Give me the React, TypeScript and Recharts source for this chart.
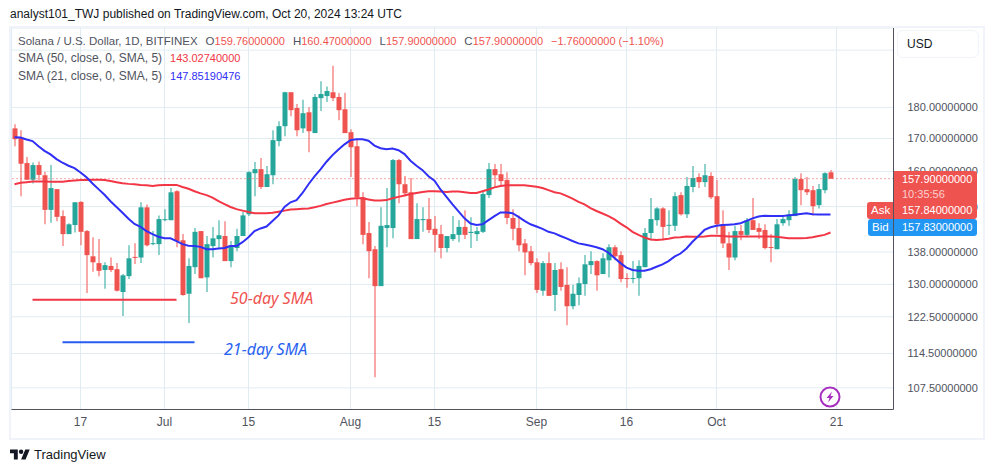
import { Bar, CartesianGrid, Cell, ComposedChart, Line, ReferenceLine, XAxis, YAxis } from 'recharts';

// daily candles, Jun 6 to Oct 20 2024
const opens = [
  173.2, 170.3, 162.5, 157.6, 161.9, 158.9, 149.1, 154.9, 147.4, 142.6,
  145.0, 151.3, 143.4, 136.9, 135.2, 133.5, 134.5, 133.7, 128.2, 132.0,
  136.6, 136.6, 149.8, 140.0, 140.0, 146.3, 146.3, 154.3, 141.0, 127.8,
  134.2, 143.4, 131.7, 139.5, 141.3, 142.1, 135.7, 139.0, 142.1, 147.9,
  159.5, 160.7, 155.5, 158.9, 169.2, 173.9, 185.1, 179.8, 173.2, 178.4,
  171.7, 183.1, 183.8, 185.1, 183.5, 179.4, 172.0, 167.6, 152.6, 142.9,
  138.7, 129.6, 144.2, 144.2, 163.4, 156.3, 154.0, 141.3, 146.3, 146.6,
  144.0, 142.6, 139.0, 141.3, 142.4, 144.5, 142.9, 142.6, 143.2, 153.2,
  160.7, 159.2, 157.5, 146.9, 144.2, 140.2, 138.2, 135.4, 128.5, 135.2,
  127.5, 133.7, 129.9, 124.9, 127.5, 130.1, 134.7, 135.7, 132.5, 135.9,
  139.2, 137.2, 131.5, 131.3, 131.5, 134.2, 142.9, 146.3, 149.5, 144.8,
  144.8, 153.2, 147.9, 155.5, 158.4, 156.9, 158.7, 152.9, 145.2, 140.2,
  136.6, 143.4, 142.4, 146.3, 144.2, 143.7, 139.2, 138.7, 145.5, 146.3,
  147.4, 157.8, 154.9, 154.6, 150.4, 154.6, 159.76,
];
const highs = [
  174.5, 172.6, 164.3, 162.7, 163.0, 159.9, 161.9, 154.9, 149.0, 145.5,
  151.2, 151.5, 143.7, 141.8, 141.3, 135.4, 136.6, 135.2, 132.5, 139.7,
  140.2, 151.2, 150.6, 143.4, 147.6, 149.3, 155.2, 154.6, 142.6, 136.4,
  144.2, 143.4, 142.1, 144.5, 146.3, 146.0, 140.8, 144.0, 148.5, 160.1,
  162.8, 164.0, 161.6, 172.6, 175.5, 185.3, 185.1, 181.1, 182.6, 180.1,
  184.5, 188.9, 187.1, 194.3, 184.8, 184.9, 172.9, 169.5, 154.0, 145.8,
  139.5, 149.8, 155.2, 163.7, 163.7, 158.7, 158.1, 150.9, 149.8, 152.4,
  147.4, 145.0, 142.1, 147.4, 146.3, 149.0, 147.1, 144.5, 154.3, 162.5,
  162.2, 162.2, 159.8, 149.3, 147.6, 141.3, 139.5, 136.4, 135.7, 137.9,
  135.2, 135.4, 134.2, 129.9, 131.7, 137.2, 138.2, 135.9, 137.7, 140.0,
  139.7, 138.2, 132.7, 135.7, 135.9, 144.2, 152.4, 149.8, 149.8, 149.0,
  154.0, 154.0, 158.4, 161.6, 159.5, 162.2, 159.8, 157.5, 149.0, 143.2,
  144.8, 145.0, 146.9, 152.4, 145.5, 145.2, 142.6, 146.6, 147.4, 149.0,
  158.4, 159.5, 158.4, 155.8, 156.4, 159.8, 160.47,
];
const lows = [
  167.6, 152.9, 157.5, 156.5, 157.5, 145.2, 145.6, 146.0, 139.5, 142.6,
  143.0, 139.7, 128.0, 133.1, 132.0, 129.0, 133.0, 128.3, 122.7, 131.3,
  135.0, 135.2, 139.4, 139.7, 137.2, 146.0, 146.3, 139.2, 127.3, 121.1,
  132.5, 131.5, 128.2, 136.6, 138.7, 135.7, 134.2, 138.2, 142.1, 147.4,
  152.9, 154.9, 155.5, 156.3, 167.6, 170.7, 177.1, 170.7, 171.7, 165.8,
  171.7, 178.8, 181.8, 182.1, 175.8, 171.7, 158.4, 150.1, 140.0, 131.5,
  109.6, 129.6, 139.2, 141.5, 150.9, 152.9, 141.3, 141.3, 143.2, 142.9,
  137.9, 136.4, 137.9, 140.8, 140.5, 141.3, 139.0, 140.8, 142.9, 152.4,
  155.5, 156.0, 145.2, 141.0, 138.2, 132.2, 134.7, 128.0, 127.3, 127.3,
  123.8, 128.5, 120.6, 124.2, 125.1, 127.3, 132.5, 128.5, 132.5, 131.7,
  135.9, 130.5, 129.2, 130.3, 127.3, 134.2, 141.0, 144.8, 141.0, 142.4,
  143.4, 147.6, 146.9, 154.0, 155.2, 155.5, 152.1, 142.6, 139.0, 133.5,
  135.9, 141.0, 142.1, 143.7, 141.3, 138.7, 135.4, 138.7, 144.8, 144.8,
  147.4, 150.4, 153.2, 147.6, 149.5, 153.7, 157.9,
];
const closes = [
  169.8, 162.3, 157.6, 161.9, 159.0, 149.1, 155.2, 147.2, 142.6, 145.2,
  151.2, 143.2, 137.2, 135.4, 133.3, 134.7, 133.5, 128.5, 132.2, 136.4,
  136.5, 149.8, 139.7, 140.2, 146.6, 146.5, 154.0, 140.8, 127.5, 134.5,
  143.2, 131.5, 140.0, 141.5, 142.3, 135.7, 139.7, 142.1, 147.6, 159.8,
  160.7, 155.5, 159.2, 169.5, 173.9, 185.1, 179.1, 172.6, 178.1, 172.3,
  183.5, 184.5, 185.5, 183.1, 179.1, 171.7, 167.3, 152.6, 142.4, 138.2,
  129.6, 144.8, 145.0, 163.4, 156.3, 153.7, 141.3, 146.6, 146.6, 143.7,
  142.4, 139.0, 142.1, 142.6, 144.5, 142.4, 143.2, 143.4, 153.5, 160.7,
  158.9, 157.2, 146.9, 144.0, 139.7, 137.9, 135.2, 128.7, 135.2, 127.3,
  133.5, 129.4, 124.9, 127.8, 130.3, 134.9, 135.7, 132.2, 136.4, 139.2,
  136.9, 131.3, 131.3, 131.5, 134.5, 142.9, 146.6, 149.5, 144.5, 145.0,
  152.9, 147.9, 155.8, 158.1, 156.9, 158.9, 152.6, 145.2, 140.2, 136.6,
  143.4, 142.4, 146.3, 143.7, 143.2, 139.0, 139.0, 145.2, 146.6, 147.9,
  157.8, 154.6, 154.0, 150.1, 154.9, 159.5, 157.9,
];
const sma21 = [
  170.4, 170.3, 169.7, 169.2, 167.6, 166.2, 165.1, 163.7, 162.6, 161.7,
  161.0, 159.7, 158.3, 156.5, 154.9, 153.3, 151.5, 149.9, 148.3, 146.7,
  145.3, 144.5, 143.4, 142.6, 141.9, 141.5, 141.5, 140.8, 140.0, 139.6,
  139.5, 139.3, 138.7, 138.7, 138.9, 139.0, 139.5, 139.5, 140.5, 141.8,
  143.4, 144.1, 144.6, 146.1, 147.6, 149.9, 151.2, 151.8, 153.8, 156.3,
  158.6, 160.6, 162.9, 164.9, 166.6, 168.2, 169.5, 169.8, 169.8, 169.3,
  167.8, 167.0, 166.7, 166.9, 166.4, 165.2, 163.2, 161.7, 160.4, 158.6,
  157.3, 154.8, 152.7, 150.6, 148.7, 146.8, 145.4, 145.0, 145.2, 146.3,
  147.4, 148.4, 148.4, 148.2, 147.2, 146.1, 145.2, 144.6, 144.0, 143.2,
  142.8, 142.1, 141.5, 140.8, 140.2, 139.9, 139.6, 139.2, 138.7, 137.8,
  136.5, 135.2, 134.1, 133.5, 133.3, 133.3, 133.7, 134.3, 134.9, 135.7,
  136.8, 137.6, 138.9, 140.6, 142.1, 143.7, 144.4, 144.8, 145.0, 145.1,
  145.2, 145.5, 146.1, 146.8, 147.3, 147.5, 147.4, 147.4, 147.4, 147.6,
  147.8, 148.0, 148.2, 147.9, 147.85, 147.85, 147.85,
];
const sma50 = [
  156.3, 156.7, 156.9, 157.1, 157.1, 157.1, 157.0, 157.0, 157.0, 157.2,
  157.4, 157.5, 157.5, 157.6, 157.6, 157.5, 157.2, 156.9, 156.6, 156.4,
  156.3, 156.1, 156.0, 155.8, 156.0, 156.1, 156.1, 156.1, 155.5, 155.0,
  154.3, 153.7, 153.2, 152.5, 151.5, 150.7, 149.9, 149.3, 148.9, 148.5,
  148.2, 148.2, 148.2, 148.3, 148.6, 148.9, 149.2, 149.3, 149.4, 149.5,
  149.8, 150.2, 150.7, 151.1, 151.5, 151.9, 152.2, 152.3, 152.3, 152.0,
  151.7, 151.7, 151.8, 152.3, 152.7, 153.1, 153.5, 153.8, 154.1, 154.3,
  154.3, 154.2, 154.1, 154.2, 154.2, 154.0, 153.8, 153.8, 154.3, 154.8,
  155.4, 155.8, 156.0, 156.0, 156.0, 156.0, 155.8, 155.6, 155.2, 154.6,
  154.0, 153.7, 153.0, 152.2, 151.3, 150.6, 149.6, 148.8, 148.1, 147.4,
  146.5, 145.4, 144.4, 143.2, 142.4, 141.7, 141.2, 141.1, 141.2, 141.4,
  141.7, 141.8, 142.0, 141.9, 141.9, 142.0, 142.2, 142.2, 142.1, 142.0,
  142.0, 142.0, 142.0, 142.0, 142.0, 142.0, 142.0, 141.9, 141.7, 141.5,
  141.5, 141.5, 141.6, 141.8, 142.1, 142.4, 143.03,
];

const priceTicks = [200, 180, 170, 160, 150, 138, 130, 122.5, 114.5, 107.5];
const timeTicks = ['2024-06-17', '2024-07-01', '2024-07-15', '2024-08-01', '2024-08-15', '2024-09-01', '2024-09-16', '2024-10-01', '2024-10-21'];
const timeLabels = ['17', 'Jul', '15', 'Aug', '15', 'Sep', '16', 'Oct', '21'];
const lastPrice = 157.9;

const UP = '#26a69a';
const DOWN = '#ef5350';
const GRID = '#e1ecf2';
const FONT = '"Liberation Sans", sans-serif';
const NOTE_FONT = '"Noto Sans", sans-serif';

// 137 candles plus the empty days TradingView leaves on the right
const days = Array.from({ length: 147 }, (_, i) => new Date(Date.UTC(2024, 5, 6 + i)).toISOString().slice(0, 10));

const data = days.map((date, i) =>
  i < opens.length
    ? {
        date,
        body: [Math.min(opens[i], closes[i]), Math.max(opens[i], closes[i])],
        wick: [lows[i], highs[i]],
        up: closes[i] >= opens[i],
        sma21: sma21[i],
        sma50: sma50[i],
      }
    : { date },
);

function Text({ x, y, color = '#50535e', size = 12, style, children }: any) {
  return (
    <div style={{ position: 'absolute', left: x, top: y, color, fontSize: size, lineHeight: '16px', fontFamily: FONT, whiteSpace: 'nowrap', ...style }}>
      {children}
    </div>
  );
}

function Num({ color = DOWN, gap = 0, children }: any) {
  return <span style={{ color, fontSize: 11, marginLeft: gap }}>{children}</span>;
}

export default function App() {
  return (
    <div style={{ position: 'absolute', left: 0, top: 0, width: 991, height: 472, background: '#fff', overflow: 'hidden' }}>
      <ComposedChart
        width={991}
        height={472}
        data={data}
        barGap={0}
        margin={{ top: 28, right: 9.5, bottom: 34.5, left: 11.5 }}
        style={{ position: 'absolute', left: 0, top: 0 }}
      >
        <CartesianGrid stroke={GRID} xAxisId="body" yAxisId="price" />
        <XAxis
          xAxisId="body"
          dataKey="date"
          height={28}
          ticks={timeTicks}
          interval={0}
          tickLine={false}
          axisLine={{ stroke: '#50535e' }}
          tick={{ fontSize: 12, fill: '#50535e', fontFamily: FONT }}
          tickFormatter={(v: string) => timeLabels[timeTicks.indexOf(v)]}
        />
        <XAxis xAxisId="wick" dataKey="date" hide />
        <YAxis
          yAxisId="price"
          orientation="right"
          width={88}
          scale="log"
          domain={[103.3, 208.3]}
          ticks={priceTicks}
          interval={0}
          tickLine={false}
          tickMargin={8}
          axisLine={{ stroke: '#50535e' }}
          tick={{ fontSize: 11, fill: '#50535e', fontFamily: FONT }}
          tickFormatter={(v: number) => v.toFixed(8)}
        />
        <ReferenceLine xAxisId="body" yAxisId="price" y={lastPrice} stroke={DOWN} strokeDasharray="1 3" />
        <Line xAxisId="body" yAxisId="price" dataKey="sma50" stroke="#f23645" strokeWidth={2} dot={false} isAnimationActive={false} />
        <Line xAxisId="body" yAxisId="price" dataKey="sma21" stroke="#2f2ff5" strokeWidth={2} dot={false} isAnimationActive={false} />
        <Bar xAxisId="wick" yAxisId="price" dataKey="wick" barSize={1} minPointSize={1} isAnimationActive={false}>
          {data.map((d: any, i) => (
            <Cell key={i} fill={d.up ? UP : DOWN} />
          ))}
        </Bar>
        <Bar xAxisId="body" yAxisId="price" dataKey="body" barSize={5} minPointSize={1} isAnimationActive={false}>
          {data.map((d: any, i) => (
            <Cell key={i} fill={d.up ? UP : DOWN} />
          ))}
        </Bar>
        <ReferenceLine
          xAxisId="body"
          yAxisId="price"
          stroke="#f23645"
          strokeWidth={2}
          segment={[{ x: days[3], y: 126.4 }, { x: days[27], y: 126.4 }]}
        />
        <ReferenceLine
          xAxisId="body"
          yAxisId="price"
          stroke="#2a5cf0"
          strokeWidth={2}
          segment={[{ x: days[8], y: 116.9 }, { x: days[30], y: 116.9 }]}
        />
      </ComposedChart>

      {/* outer frame */}
      <div style={{ position: 'absolute', left: 9, top: 26, width: 972, height: 410, border: '2px solid #f0f3fa', pointerEvents: 'none' }} />

      <Text x={10} y={6} color="#131722" size={12}>
        analyst101_TWJ published on TradingView.com, Oct 20, 2024 13:24 UTC
      </Text>

      <Text x={18} y={33} size={11.5}>
        Solana / U.S. Dollar, 1D, BITFINEX
        <span style={{ marginLeft: 8 }}>O</span><Num>159.76000000</Num>
        <span style={{ marginLeft: 8 }}>H</span><Num>160.47000000</Num>
        <span style={{ marginLeft: 8 }}>L</span><Num>157.90000000</Num>
        <span style={{ marginLeft: 8 }}>C</span><Num>157.90000000</Num>
        <Num gap={8}>−1.76000000 (−1.10%)</Num>
      </Text>
      <Text x={18} y={50}>
        SMA (50, close, 0, SMA, 5)<Num color="#f23645" gap={8}>143.02740000</Num>
      </Text>
      <Text x={18} y={68}>
        SMA (21, close, 0, SMA, 5)<Num color="#2f2ff5" gap={8}>147.85190476</Num>
      </Text>

      <Text x={230} y={290} color="#ef5350" size={16} style={{ fontStyle: 'italic', fontFamily: NOTE_FONT }}>50-day SMA</Text>
      <Text x={224} y={341} color="#2a62f0" size={16} style={{ fontStyle: 'italic', fontFamily: NOTE_FONT }}>21-day SMA</Text>

      {/* USD button */}
      <div style={{ position: 'absolute', left: 897, top: 30, width: 80, height: 26, border: '1px solid #f0f3fa', borderRadius: 6, background: '#fff' }}>
        <Text x={9} y={5} color="#131722">USD</Text>
      </div>

      {/* price tags */}
      <div style={{ position: 'absolute', left: 894, top: 171, width: 83, height: 48, background: DOWN, borderRadius: '0 3px 3px 0' }} />
      <div style={{ position: 'absolute', left: 894, top: 219, width: 83, height: 17, background: '#2196f3', borderRadius: '0 3px 3px 0' }} />
      <div style={{ position: 'absolute', left: 867, top: 202, width: 26, height: 17, background: DOWN, borderRadius: '3px 0 0 3px' }} />
      <div style={{ position: 'absolute', left: 868, top: 219, width: 25, height: 17, background: '#2196f3', borderRadius: '3px 0 0 3px' }} />
      <Text x={902} y={171} color="#fff" size={11}>157.90000000</Text>
      <Text x={902} y={186} color="#fbd0cf" size={11}>10:35:56</Text>
      <Text x={902} y={202} color="#fff" size={11}>157.84000000</Text>
      <Text x={902} y={219} color="#fff" size={11}>157.83000000</Text>
      <Text x={871} y={202} color="#fff" size={11.5}>Ask</Text>
      <Text x={872} y={219} color="#fff" size={11.5}>Bid</Text>

      {/* bolt marker */}
      <svg width={24} height={24} style={{ position: 'absolute', left: 818, top: 385 }}>
        <circle cx={12} cy={12} r={9.5} fill="#fff" stroke="#a72fc0" strokeWidth={2} />
        <path d="M14 6.5 L8.5 13 L11.5 13 L10 17.5 L15.5 11 L12.5 11 Z" fill="#a72fc0" />
      </svg>

      {/* footer logo */}
      <svg width={20} height={16} viewBox="0 0 36 28" style={{ position: 'absolute', left: 10, top: 447 }}>
        <path d="M14 22H7V11H0V4h14v18zM28 22h-8l7.5-18h8L28 22z" fill="#131722" />
        <circle cx={20} cy={8} r={4} fill="#131722" />
      </svg>
      <Text x={34} y={447} color="#131722" size={13}>TradingView</Text>
    </div>
  );
}
